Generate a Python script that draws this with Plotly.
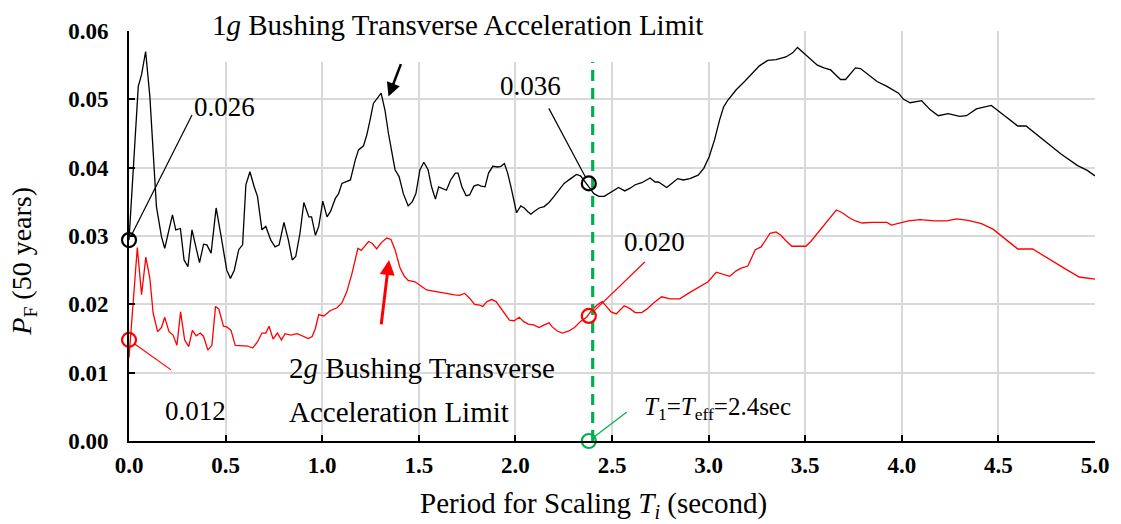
import math
import plotly.graph_objects as go

# Period for scaling T_i (s) and 50-year failure probability, 1g bushing limit
black_T = [0.000, 0.048, 0.065, 0.086, 0.108, 0.125, 0.142, 0.168, 0.185, 0.211, 0.225, 0.242, 0.266, 0.285,
           0.305, 0.326, 0.345, 0.365, 0.386, 0.403, 0.425, 0.451, 0.477, 0.506, 0.525, 0.545, 0.568, 0.588,
           0.605, 0.626, 0.648, 0.665, 0.688, 0.708, 0.734, 0.756, 0.777, 0.802, 0.825, 0.845, 0.863, 0.885,
           0.905, 0.931, 0.945, 0.965, 0.982, 1.003, 1.025, 1.043, 1.068, 1.085, 1.102, 1.120, 1.146, 1.171,
           1.188, 1.214, 1.231, 1.248, 1.265, 1.305, 1.325, 1.343, 1.360, 1.377, 1.398, 1.420, 1.445, 1.466,
           1.485, 1.506, 1.526, 1.548, 1.566, 1.586, 1.603, 1.620, 1.643, 1.665, 1.689, 1.703, 1.723, 1.745,
           1.763, 1.785, 1.806, 1.823, 1.843, 1.861, 1.883, 1.908, 1.925, 1.943, 1.960, 1.977, 1.994, 2.006,
           2.028, 2.046, 2.063, 2.080, 2.097, 2.123, 2.149, 2.174, 2.200, 2.226, 2.252, 2.286, 2.316, 2.337,
           2.363, 2.385, 2.406, 2.432, 2.460, 2.483, 2.509, 2.534, 2.566, 2.594, 2.620, 2.654, 2.697, 2.723,
           2.740, 2.783, 2.809, 2.840, 2.869, 2.903, 2.946, 2.975, 3.003, 3.031, 3.057, 3.078, 3.100, 3.143,
           3.186, 3.229, 3.263, 3.306, 3.349, 3.400, 3.435, 3.460, 3.494, 3.529, 3.563, 3.597, 3.632, 3.657,
           3.683, 3.709, 3.735, 3.760, 3.786, 3.829, 3.872, 3.923, 3.983, 4.009, 4.043, 4.103, 4.146, 4.189,
           4.240, 4.300, 4.335, 4.386, 4.463, 4.532, 4.600, 4.643, 4.695, 4.755, 4.824, 4.910, 4.960, 5.000]
black_P = [0.0294, 0.0519, 0.0536, 0.0570, 0.0504, 0.0421, 0.0343, 0.0299, 0.0282, 0.0314, 0.0331, 0.0309, 0.0311, 0.0265,
           0.0255, 0.0309, 0.0284, 0.0261, 0.0288, 0.0287, 0.0275, 0.0341, 0.0299, 0.0250, 0.0238, 0.0250, 0.0280, 0.0287,
           0.0375, 0.0394, 0.0372, 0.0358, 0.0309, 0.0314, 0.0294, 0.0284, 0.0287, 0.0320, 0.0294, 0.0265, 0.0270, 0.0304,
           0.0349, 0.0328, 0.0328, 0.0301, 0.0314, 0.0351, 0.0328, 0.0336, 0.0355, 0.0362, 0.0377, 0.0379, 0.0382, 0.0411,
           0.0426, 0.0432, 0.0448, 0.0470, 0.0494, 0.0509, 0.0484, 0.0450, 0.0421, 0.0397, 0.0387, 0.0362, 0.0344, 0.0350,
           0.0362, 0.0397, 0.0408, 0.0397, 0.0372, 0.0354, 0.0372, 0.0370, 0.0367, 0.0382, 0.0392, 0.0392, 0.0372, 0.0359,
           0.0360, 0.0373, 0.0375, 0.0373, 0.0372, 0.0392, 0.0402, 0.0401, 0.0402, 0.0406, 0.0392, 0.0372, 0.0348, 0.0334,
           0.0344, 0.0341, 0.0336, 0.0332, 0.0336, 0.0341, 0.0343, 0.0349, 0.0358, 0.0367, 0.0377, 0.0384, 0.0390, 0.0388,
           0.0379, 0.0370, 0.0362, 0.0358, 0.0358, 0.0362, 0.0367, 0.0371, 0.0366, 0.0370, 0.0375, 0.0378, 0.0385, 0.0379,
           0.0379, 0.0371, 0.0377, 0.0384, 0.0382, 0.0384, 0.0389, 0.0399, 0.0416, 0.0441, 0.0470, 0.0489, 0.0499, 0.0514,
           0.0526, 0.0538, 0.0549, 0.0557, 0.0558, 0.0562, 0.0568, 0.0576, 0.0567, 0.0558, 0.0550, 0.0546, 0.0543, 0.0536,
           0.0529, 0.0529, 0.0538, 0.0546, 0.0545, 0.0536, 0.0526, 0.0519, 0.0509, 0.0500, 0.0495, 0.0498, 0.0485, 0.0476,
           0.0479, 0.0475, 0.0476, 0.0486, 0.0491, 0.0476, 0.0461, 0.0461, 0.0449, 0.0435, 0.0420, 0.0403, 0.0396, 0.0388]

# Same quantity for the 2g bushing limit
red_T = [0.000, 0.043, 0.065, 0.087, 0.108, 0.125, 0.148, 0.168, 0.185, 0.207, 0.228, 0.248, 0.267, 0.288,
         0.309, 0.328, 0.348, 0.369, 0.386, 0.408, 0.429, 0.448, 0.465, 0.489, 0.506, 0.528, 0.550, 0.580,
         0.614, 0.640, 0.665, 0.688, 0.708, 0.725, 0.746, 0.768, 0.789, 0.808, 0.837, 0.871, 0.900, 0.928,
         0.948, 0.965, 0.982, 1.008, 1.043, 1.077, 1.102, 1.128, 1.154, 1.185, 1.202, 1.240, 1.260, 1.282,
         1.305, 1.334, 1.356, 1.377, 1.403, 1.425, 1.445, 1.480, 1.506, 1.540, 1.583, 1.634, 1.686, 1.711,
         1.737, 1.763, 1.789, 1.814, 1.831, 1.853, 1.878, 1.900, 1.934, 1.969, 1.994, 2.020, 2.042, 2.066,
         2.094, 2.123, 2.149, 2.174, 2.191, 2.217, 2.243, 2.277, 2.306, 2.337, 2.368, 2.397, 2.423, 2.449,
         2.471, 2.495, 2.522, 2.543, 2.563, 2.591, 2.620, 2.654, 2.680, 2.715, 2.757, 2.800, 2.851, 2.895,
         2.937, 2.997, 3.040, 3.071, 3.109, 3.143, 3.169, 3.203, 3.220, 3.242, 3.272, 3.294, 3.318, 3.349,
         3.374, 3.400, 3.431, 3.465, 3.503, 3.529, 3.563, 3.597, 3.632, 3.661, 3.692, 3.726, 3.760, 3.795,
         3.846, 3.923, 3.946, 4.000, 4.035, 4.095, 4.172, 4.232, 4.283, 4.343, 4.412, 4.472, 4.532, 4.600,
         4.677, 4.755, 4.840, 4.918, 5.000]
red_P = [0.0122, 0.0283, 0.0214, 0.0269, 0.0238, 0.0187, 0.0160, 0.0166, 0.0181, 0.0160, 0.0155, 0.0140, 0.0189, 0.0148,
         0.0138, 0.0162, 0.0154, 0.0158, 0.0153, 0.0133, 0.0140, 0.0197, 0.0193, 0.0168, 0.0167, 0.0162, 0.0140, 0.0140,
         0.0139, 0.0136, 0.0145, 0.0158, 0.0158, 0.0168, 0.0149, 0.0158, 0.0148, 0.0157, 0.0155, 0.0157, 0.0154, 0.0150,
         0.0153, 0.0165, 0.0185, 0.0183, 0.0191, 0.0195, 0.0202, 0.0219, 0.0245, 0.0282, 0.0279, 0.0292, 0.0289, 0.0281,
         0.0290, 0.0297, 0.0295, 0.0280, 0.0253, 0.0241, 0.0235, 0.0233, 0.0228, 0.0221, 0.0219, 0.0216, 0.0214, 0.0213,
         0.0216, 0.0209, 0.0200, 0.0199, 0.0197, 0.0204, 0.0207, 0.0204, 0.0191, 0.0177, 0.0176, 0.0181, 0.0175, 0.0171,
         0.0170, 0.0166, 0.0170, 0.0173, 0.0167, 0.0161, 0.0158, 0.0161, 0.0166, 0.0175, 0.0181, 0.0192, 0.0199, 0.0204,
         0.0197, 0.0189, 0.0186, 0.0192, 0.0198, 0.0194, 0.0188, 0.0188, 0.0193, 0.0202, 0.0211, 0.0208, 0.0208, 0.0216,
         0.0223, 0.0233, 0.0247, 0.0244, 0.0241, 0.0249, 0.0253, 0.0256, 0.0267, 0.0280, 0.0284, 0.0294, 0.0304, 0.0306,
         0.0301, 0.0293, 0.0285, 0.0285, 0.0285, 0.0292, 0.0304, 0.0316, 0.0328, 0.0338, 0.0334, 0.0327, 0.0322, 0.0319,
         0.0320, 0.0320, 0.0316, 0.0319, 0.0322, 0.0324, 0.0322, 0.0322, 0.0325, 0.0323, 0.0318, 0.0310, 0.0297, 0.0281,
         0.0281, 0.0267, 0.0253, 0.0240, 0.0237]

# Highlighted points (open circles)
black_mark_T = [0.0, 2.38]
black_mark_P = [0.0294, 0.0377]
red_mark_T = [0.0, 2.38]
red_mark_P = [0.0148, 0.0183]
green_mark_T = [2.38]
green_mark_P = [0.0]

# Effective period line
T_eff = 2.4

x_ticks = [0.0, 0.5, 1.0, 1.5, 2.0, 2.5, 3.0, 3.5, 4.0, 4.5, 5.0]
y_ticks = [0.00, 0.01, 0.02, 0.03, 0.04, 0.05, 0.06]

W, H = 1121, 524
L, R, T, B = 129, 1101, 31, 441
SERIF = "Liberation Serif"
GREEN = "#00B050"
RED = "#FF0000"
MARK_R = 7


def px(x):
    return (x - L) / (R - L)


def py(y):
    return (B - y) / (B - T)


fig = go.Figure()
fig.add_trace(go.Scatter(x=black_T, y=black_P, mode="lines",
                         line=dict(color="black", width=1.3), showlegend=False))
fig.add_trace(go.Scatter(x=red_T, y=red_P, mode="lines",
                         line=dict(color=RED, width=1.3), showlegend=False))
fig.add_trace(go.Scatter(x=[T_eff, T_eff], y=[y_ticks[0], y_ticks[-1]], mode="lines",
                         line=dict(color=GREEN, width=3.2, dash="11px,7px"), showlegend=False))
for xs, ys, col in [(black_mark_T, black_mark_P, "black"),
                    (red_mark_T, red_mark_P, RED),
                    (green_mark_T, green_mark_P, GREEN)]:
    fig.add_trace(go.Scatter(x=xs, y=ys, mode="markers", cliponaxis=False,
                             marker=dict(symbol="circle-open", size=2 * MARK_R, color=col,
                                         line=dict(width=2.2, color=col)),
                             showlegend=False))

shapes = []


def mask(x0, y0, x1, y1, layer="between"):
    # white panel behind a text label, hiding the grid there
    shapes.append(dict(type="rect", xref="paper", yref="paper",
                       x0=px(x0), x1=px(x1), y0=py(y1), y1=py(y0),
                       fillcolor="white", line=dict(width=0), layer=layer))


def leader(x, y, dx, dy, col, width=1.2):
    # thin line from a circled point, offset in screen pixels (dy downward)
    n = math.hypot(dx, dy)
    ux, uy = dx / n, dy / n
    shapes.append(dict(type="line", xref="x", yref="y", xsizemode="pixel", ysizemode="pixel",
                       xanchor=x, yanchor=y,
                       x0=MARK_R * ux, y0=-MARK_R * uy, x1=dx, y1=-dy,
                       line=dict(color=col, width=width), layer="above"))


mask(188, 0, 727, 62, layer="above")
mask(175, 68, 286, 143)
mask(473, 60, 584, 113)
mask(627, 228, 690, 258)
mask(140, 370, 257, 437)

leader(black_mark_T[0], black_mark_P[0], 63, -125, "black")
leader(black_mark_T[1], black_mark_P[1], -40, -75, "black")
leader(red_mark_T[1], red_mark_P[1], 56, -54, RED)
leader(red_mark_T[0], red_mark_P[0], 42, 30, RED)
leader(green_mark_T[0], green_mark_P[0], 38, -29, GREEN)

ann = []


def label(text, cx, cy, size=27, xanchor="center", angle=0):
    ann.append(dict(text=text, xref="paper", yref="paper", x=px(cx), y=py(cy), showarrow=False,
                    xanchor=xanchor, yanchor="middle", textangle=angle,
                    font=dict(family=SERIF, size=size, color="black")))


label("1<i>g</i> Bushing Transverse Acceleration Limit", 460, 25, size=29)
label("0.026", 225, 107)
label("0.036", 533, 86)
label("0.020", 658, 242)
label("0.012", 196, 411)
label("2<i>g</i> Bushing Transverse", 288, 368, size=29, xanchor="left")
label("Acceleration Limit", 288, 412, size=29, xanchor="left")
label("<i>T</i><sub>1</sub>=<i>T</i><sub>eff</sub>=2.4sec", 721, 408, size=25)
label("Period for Scaling <i>T<sub>i</sub></i> (second)", 596, 505, size=29)
label("<i>P</i><sub>F</sub> (50 years)", 22, 261, size=28, angle=-90)

# pointer arrows toward the two curves
ann.append(dict(text="", x=1.343, y=0.0504, xref="x", yref="y", ax=13, ay=-34,
                showarrow=True, arrowhead=2, arrowsize=1.1, arrowwidth=2.5, arrowcolor="black"))
ann.append(dict(text="", x=1.346, y=0.0265, xref="x", yref="y", ax=-8, ay=66,
                showarrow=True, arrowhead=2, arrowsize=1.0, arrowwidth=3, arrowcolor=RED))

axis_common = dict(showline=True, linecolor="black", linewidth=2, ticks="inside", ticklen=6,
                   tickcolor="black", tickwidth=1.5, showgrid=True, gridcolor="#D9D9D9",
                   gridwidth=1.5, zeroline=False,
                   tickfont=dict(family=SERIF, size=23, color="black", weight="bold"))

fig.update_layout(
    width=W, height=H,
    margin=dict(l=L, r=W - R, t=T, b=H - B, pad=0),
    paper_bgcolor="white", plot_bgcolor="white",
    annotations=ann,
    shapes=shapes,
    xaxis=dict(range=[0, 5], tickvals=x_ticks, ticktext=[f"{v:.1f}" for v in x_ticks],
               ticklabelstandoff=2, **axis_common),
    yaxis=dict(range=[0, 0.06], tickvals=y_ticks, ticktext=[f"{v:.2f}" for v in y_ticks],
               ticklabelstandoff=14, **axis_common),
)

fig.write_html("out.html")
